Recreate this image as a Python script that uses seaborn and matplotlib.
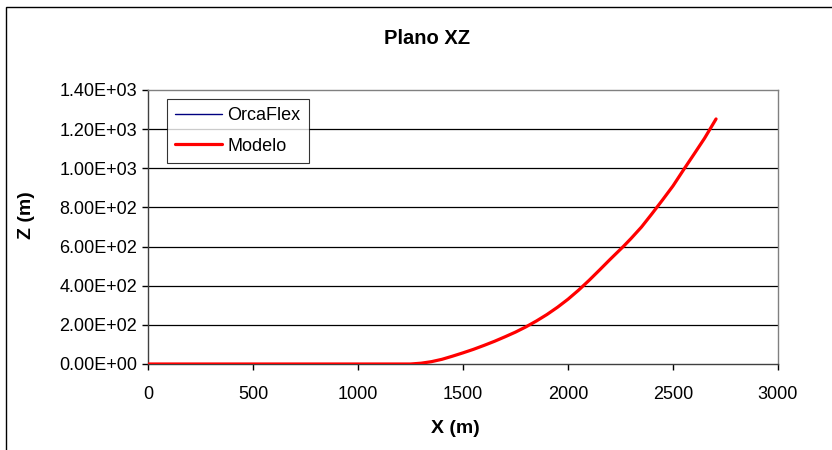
import matplotlib
matplotlib.use('agg')
import matplotlib.pyplot as plt
import seaborn as sns
import pandas as pd
from matplotlib.patches import Rectangle

# values
x_m = [0, 1250, 1300, 1350, 1400, 1450, 1500, 1550, 1600, 1650, 1700, 1750,
       1800, 1850, 1900, 1950, 2000, 2050, 2100, 2150, 2200, 2265, 2300,
       2350, 2400, 2450, 2500, 2555, 2600, 2650, 2700, 2705]
z_m = [0, 0, 4, 12, 24, 40, 57, 75, 95, 116, 139, 163,
       190, 220, 253, 290, 331, 377, 427, 480, 534, 602, 641,
       700, 768, 838, 910, 1000, 1072, 1153, 1243, 1252]
y_ticks = [0, 200, 400, 600, 800, 1000, 1200, 1400]
x_ticks = [0, 500, 1000, 1500, 2000, 2500, 3000]

df_orca = pd.DataFrame({"X": x_m, "Z": z_m})
df_model = pd.DataFrame({"X": x_m, "Z": z_m})

sns.set_style("white")
plt.rcParams['font.family'] = ['Liberation Sans', 'DejaVu Sans']
plt.rcParams['text.color'] = 'black'
plt.rcParams['axes.labelcolor'] = 'black'
plt.rcParams['xtick.color'] = 'black'
plt.rcParams['ytick.color'] = 'black'

fig = plt.figure(figsize=(8.32, 4.5), dpi=100)
ax = fig.add_axes([148 / 832, 1 - 364 / 450, 630 / 832, 274 / 450])

# outer chart frame
fig.patches.append(Rectangle((6 / 832, -0.1), 1.2, 1 - 7 / 450 + 0.1,
                             transform=fig.transFigure, fill=False,
                             edgecolor='black', linewidth=1.0))

for t in y_ticks[1:-1]:
    ax.axhline(t, color='black', linewidth=0.9, zorder=1)

sns.lineplot(data=df_orca, x="X", y="Z", sort=False, estimator=None,
             color='#000080', linewidth=1.0, label='OrcaFlex', ax=ax, zorder=2)
sns.lineplot(data=df_model, x="X", y="Z", sort=False, estimator=None,
             color='#ff0000', linewidth=2.3, label='Modelo', ax=ax, zorder=3)

ax.set_xlim(0, 3000)
ax.set_ylim(0, 1400)
ax.set_xticks(x_ticks)
ax.set_yticks(y_ticks)
ax.set_yticklabels(["%.2E" % v for v in y_ticks])
ax.tick_params(axis='both', direction='out', length=4, width=1, color='black',
               labelsize=13, labelcolor='black', left=True, bottom=True, pad=4)
ax.tick_params(axis='x', pad=12)

for side in ['top', 'right']:
    ax.spines[side].set_color('#808080')
    ax.spines[side].set_linewidth(1.0)
for side in ['left', 'bottom']:
    ax.spines[side].set_color('#404040')
    ax.spines[side].set_linewidth(1.0)

ax.set_xlabel("X (m)", fontsize=14, fontweight='bold', color='black')
ax.set_ylabel("Z (m)", fontsize=14, fontweight='bold', color='black')
ax.xaxis.set_label_coords((455 - 148) / 630, -(420 - 364) / 274)
ax.yaxis.set_label_coords(-(148 - 35) / 630, (364 - 215) / 274)
fig.text(427 / 832, 1 - 39 / 450, "Plano XZ", ha='center', va='center',
         fontsize=14.5, fontweight='bold', color='black')

leg = ax.legend(loc='upper left', bbox_to_anchor=(19 / 630, (364 - 99) / 274),
                frameon=True, fancybox=False, edgecolor='black', fontsize=13,
                handlelength=2.6, borderpad=0.45, labelspacing=0.75,
                handletextpad=0.3, borderaxespad=0)
leg.get_frame().set_linewidth(0.8)
for txt in leg.get_texts():
    txt.set_color('black')

plt.savefig("out.png", dpi=100)
